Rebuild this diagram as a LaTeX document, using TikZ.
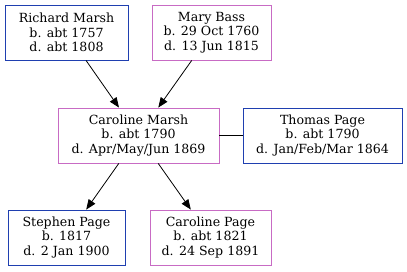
\documentclass[tikz,border=0pt]{standalone}
\usepackage{fontspec}
\setmainfont{DejaVu Serif}
\usetikzlibrary{arrows.meta}
\definecolor{maleblue}{HTML}{1F3FB0}
\definecolor{femalepink}{HTML}{C86BC4}
\begin{document}
\begin{tikzpicture}[x=1pt,y=-1pt,
  person/.style={draw,line width=0.9pt,fill=white,align=center,inner sep=0pt,
    minimum height=55pt,font=\fontsize{12.6}{14.5}\selectfont},
  male/.style={person,draw=maleblue},
  female/.style={person,draw=femalepink},
  link/.style={line width=0.8pt,-{Triangle[length=10pt,width=8pt]}}]
\useasboundingbox[fill=white] (0,0) rectangle (407,271);
\node[male,minimum width=123pt]   (rm) at (66.5,32.5)  {Richard Marsh\\b. abt 1757\\d. abt 1808};
\node[female,minimum width=119pt] (mb) at (211.5,32.5) {Mary Bass\\b. 29 Oct 1760\\d. 13 Jun 1815};
\node[female,minimum width=161pt] (cm) at (138.5,135.5) {Caroline Marsh\\b. abt 1790\\d. Apr/May/Jun 1869};
\node[male,minimum width=159pt]   (tp) at (322.5,135.5) {Thomas Page\\b. abt 1790\\d. Jan/Feb/Mar 1864};
\node[male,minimum width=117pt]   (sp) at (66.5,237.5) {Stephen Page\\b. 1817\\d. 2 Jan 1900};
\node[female,minimum width=121pt] (cp) at (210.5,237.5) {Caroline Page\\b. abt 1821\\d. 24 Sep 1891};
\draw[link] (rm) -- (cm);
\draw[link] (mb) -- (cm);
\draw[link] (cm) -- (sp);
\draw[link] (cm) -- (cp);
\draw[line width=0.8pt] (cm) -- (tp);
\end{tikzpicture}
\end{document}
